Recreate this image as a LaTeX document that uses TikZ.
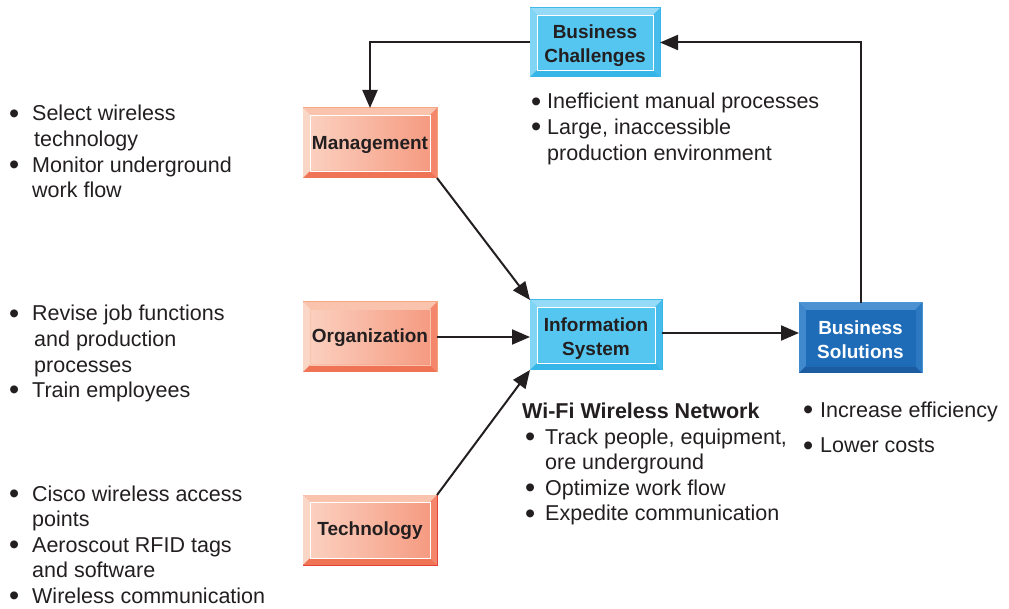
\documentclass[tikz,border=0pt]{standalone}
\usepackage{fontspec}
\usepackage{graphicx}
\setmainfont{Liberation Sans}
\usetikzlibrary{arrows.meta}

\definecolor{ink}{HTML}{231F20}
\definecolor{cyancore}{HTML}{55C6F0}
\definecolor{cyanedge}{HTML}{34B6E9}
\definecolor{cyantop}{HTML}{95DAF6}
\definecolor{cyanleft}{HTML}{80D4F4}
\definecolor{cyanbot}{HTML}{36B5E8}
\definecolor{cyanright}{HTML}{45BCEC}
\definecolor{peachl}{HTML}{FBD3C2}
\definecolor{peachr}{HTML}{F5987E}
\definecolor{peachedge}{HTML}{F4A57F}
\definecolor{peachtop}{HTML}{F9C3AD}
\definecolor{peachleft}{HTML}{FAD6C7}
\definecolor{peachbot}{HTML}{EF7355}
\definecolor{peachright}{HTML}{F4876B}
\definecolor{techedge}{HTML}{E53A33}
\definecolor{navycore}{HTML}{1E6CB7}
\definecolor{navyedge}{HTML}{4A97D8}
\definecolor{navytop}{HTML}{4C92D2}
\definecolor{navyleft}{HTML}{3F89CC}
\definecolor{navybot}{HTML}{1B5DA0}
\definecolor{navyright}{HTML}{2C79C2}

\tikzset{
  box/.style={rectangle, minimum width=134pt, minimum height=70pt, inner sep=0pt,
    outer sep=0pt, align=center, line width=1pt, text=ink,
    font=\fontsize{19}{24}\selectfont\bfseries},
  cyanbox/.style={box, fill=cyancore, draw=cyanedge},
  peachbox/.style={box, left color=peachl, right color=peachr, draw=peachedge},
  navybox/.style={box, fill=navycore, draw=navyedge, text=white},
  boxlabel/.style={box, draw=none, minimum width=0pt, minimum height=0pt},
  flow/.style={-{Triangle[length=18pt,width=15pt]}, line width=2pt, draw=ink},
  notes/.style={anchor=base west, inner sep=0pt, text=ink,
    font=\fontsize{21.5}{25.6}\selectfont},
}

% bevelled rim: node, top, left, bottom, right, inner line
\newcommand{\bevel}[6]{%
  \fill[#2] (#1.north west) -- (#1.north east) -- ([xshift=-7pt,yshift=-7pt]#1.north east) -- ([xshift=7pt,yshift=-7pt]#1.north west) -- cycle;
  \fill[#3] (#1.north west) -- (#1.south west) -- ([xshift=7pt,yshift=7pt]#1.south west) -- ([xshift=7pt,yshift=-7pt]#1.north west) -- cycle;
  \fill[#4] (#1.south west) -- (#1.south east) -- ([xshift=-7pt,yshift=7pt]#1.south east) -- ([xshift=7pt,yshift=7pt]#1.south west) -- cycle;
  \fill[#5] (#1.north east) -- (#1.south east) -- ([xshift=-7pt,yshift=7pt]#1.south east) -- ([xshift=-7pt,yshift=-7pt]#1.north east) -- cycle;
  \draw[#6, line width=0.8pt] ([xshift=7pt,yshift=-7pt]#1.north west) rectangle ([xshift=-7pt,yshift=7pt]#1.south east);
}
\newcommand{\dotitem}{\smash{\raisebox{-2.2pt}{\scalebox{1.35}{\textbullet}}}}
\newcommand{\notelist}[2]{\begin{tabular}[t]{@{}p{#1}@{}l@{}}#2\end{tabular}}

\begin{document}
\begin{tikzpicture}[x=1pt,y=-1pt]
  \useasboundingbox (0,0) rectangle (1009,609);

  % Draw boxes
  \node[cyanbox, minimum width=130pt, minimum height=69pt] (bc) at (595,42.5) {};
  \bevel{bc}{cyantop}{cyanleft}{cyanbot}{cyanright}{white}
  \node[peachbox] (mg) at (370,143) {};
  \bevel{mg}{peachtop}{peachleft}{peachbot}{peachright}{white}
  \node[peachbox] (org) at (370,337) {};
  \bevel{org}{peachtop}{peachleft}{peachbot}{peachright}{peachtop}
  \node[peachbox, draw=techedge] (tech) at (370,530) {};
  \bevel{tech}{peachtop}{peachleft}{peachbot}{peachright}{white}
  \node[cyanbox, minimum width=132pt] (is) at (596,335) {};
  \bevel{is}{cyantop}{cyanleft}{cyanbot}{cyanright}{white}
  \node[navybox, minimum width=123pt] (bs) at (860.5,338) {};
  \bevel{bs}{navytop}{navyleft}{navybot}{navyright}{navycore}

  % Box labels
  \node[boxlabel, yshift=-3pt] (bclabel) at (bc) {Business\\Challenges};
  \node[boxlabel, yshift=-1.5pt] (mglabel) at (mg) {Management};
  \node[boxlabel, yshift=-1pt] (orglabel) at (org) {Organization};
  \node[boxlabel, yshift=-1pt] (techlabel) at (tech) {Technology};
  \node[boxlabel, yshift=-4pt] (islabel) at (is) {Information\\System};
  \node[boxlabel, yshift=-1.5pt, text=white] (bslabel) at (bs) {Business\\Solutions};

  % Connect boxes with arrows
  \draw[flow] (bc.west) -| (mg.north);
  \draw[flow] (bs.north) |- (bc.east);
  \draw[flow] (mg.south east) -- (is.north west);
  \draw[flow] (org.east) -- (is.west |- org.east);
  \draw[flow] (tech.north east) -- (is.south west);
  \draw[flow] (is.east |- 0,333) -- (bs.west |- 0,333);

  % Notes
  \node[notes] (mgnotes) at (9,121) {\notelist{23pt}{\dotitem & Select wireless\\ & \hspace{2pt}technology\\ \dotitem & Monitor underground\\ & work flow}};
  \node[notes] (orgnotes) at (9,321) {\notelist{23pt}{\dotitem & Revise job functions\\ & \hspace{2pt}and production\\ & \hspace{2pt}processes\\ \dotitem & Train employees}};
  \node[notes] (technotes) at (9,501) {\notelist{23pt}{\dotitem & Cisco wireless access\\ & points\\ \dotitem & Aeroscout RFID tags\\ & and software\\ \dotitem & Wireless communication}};
  \node[notes] (bcnotes) at (531,109) {\notelist{16pt}{\dotitem & Inefficient manual processes\\ \dotitem & Large, inaccessible\\ & production environment}};
  \node[notes, font=\fontsize{21.5}{25.6}\selectfont\bfseries] (ishead) at (522,418) {Wi-Fi Wireless Network};
  \node[notes] (isnotes) at (525,444) {\notelist{20pt}{\dotitem & Track people, equipment,\\ & ore underground\\ \dotitem & Optimize work flow\\ \dotitem & Expedite communication}};
  \node[notes] (bsnotes) at (803,417) {\notelist{17pt}{\dotitem & Increase efficiency\\[10.4pt] \dotitem & Lower costs}};
\end{tikzpicture}
\end{document}
